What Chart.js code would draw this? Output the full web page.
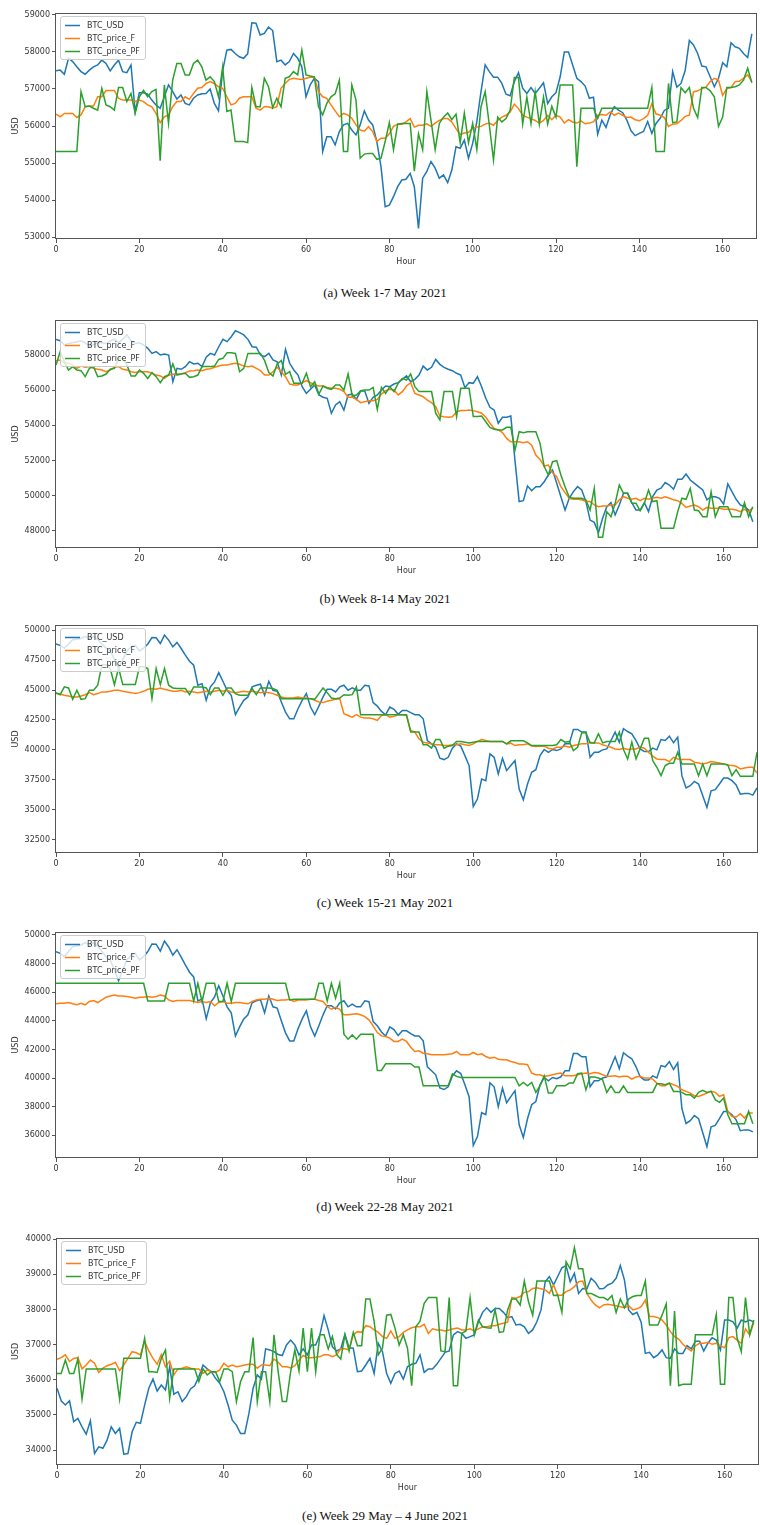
<!DOCTYPE html>
<html>
<head>
<meta charset="utf-8">
<script src="https://cdn.jsdelivr.net/npm/chart.js@4.4.1/dist/chart.umd.min.js"></script>
<style>
  html, body { margin: 0; padding: 0; background: #fff; }
  body { position: relative; width: 760px; height: 1525px; overflow: hidden; }
  .cap { position: absolute; left: 0; width: 770px; text-align: center;
         font-family: "Liberation Serif", "Times New Roman", serif; font-size: 13px;
         line-height: 16px; color: #111; }
</style>
</head>
<body>
<script>
// ---- shared axis / legend content ----
const hourTicks = [0, 20, 40, 60, 80, 100, 120, 140, 160];
const seriesNames = ['BTC_USD', 'BTC_price_F', 'BTC_price_PF'];
const usdTicksA = [53000, 54000, 55000, 56000, 57000, 58000, 59000];
const usdTicksB = [48000, 50000, 52000, 54000, 56000, 58000];
const usdTicksC = [32500, 35000, 37500, 40000, 42500, 45000, 47500, 50000];
const usdTicksD = [36000, 38000, 40000, 42000, 44000, 46000, 48000, 50000];
const usdTicksE = [34000, 35000, 36000, 37000, 38000, 39000, 40000];

// ---- (a) Week 1-7 May 2021, hourly ----
const btcUsdA = [
57490,57510,57400,57830,57740,57600,57470,57400,57510,57600,57650,57780,57690,57490,57650,57780,57470,57440,57650,56390,
56900,56900,56860,56700,56570,56480,56790,57110,56930,56730,56840,56610,56570,56750,56840,56870,56880,57000,56610,56410,
57500,58050,58070,57960,57870,57830,57950,58790,58780,58460,58500,58670,58580,57740,57780,57650,57740,57960,57830,57600,
56790,57110,57290,57200,55310,55710,55710,55490,55850,56030,56070,55890,55760,56030,56410,56160,56030,55580,54900,53820,
53860,54090,54360,54540,54560,54720,54360,53230,54590,54770,55040,54860,54590,54680,54470,54810,55440,55400,55620,55130,
55530,56120,56930,57650,57470,57320,57320,57150,56860,56820,57200,57440,57020,56880,57040,56880,57020,57170,56610,56790,
56900,57330,58000,58000,57650,57290,57200,57080,56750,56780,55780,56160,55960,56300,56520,56430,56360,56160,55870,55740,
55800,55850,56120,55800,56070,56210,56420,56480,57470,57050,57150,57500,58310,58190,57960,57620,57600,57330,57060,57290,
57710,57600,58250,58140,58100,57960,57850,58490];
const priceFA = [
56320,56250,56340,56340,56340,56230,56300,56520,56540,56540,56790,56790,56960,56960,56960,56750,56700,56700,56700,56660,
56700,56660,56570,56520,56340,56090,56250,56300,56520,56660,56660,56790,56720,56880,57020,57040,57150,57200,57150,57060,
57020,56790,56570,56610,56750,56790,56790,56790,56480,56430,56520,56520,56480,56520,57020,57150,57260,57290,57270,57260,
57290,57320,57320,56930,56790,56750,56570,56410,56250,56340,56300,56210,56030,55890,55860,55980,55850,55580,55670,55670,
55790,55990,56050,56050,56110,56200,55970,56020,56020,56060,55990,56080,56150,56200,56200,56110,55930,55770,55810,55830,
55930,55970,55990,56050,56080,56020,56150,56240,56290,56380,56590,56470,56290,56240,56200,56150,56080,56150,56290,56170,
56290,56240,56080,56170,56110,56080,56140,56060,56080,56110,56290,56310,56290,56380,56290,56350,56290,56230,56240,56170,
56140,56200,56290,56600,56330,56290,56230,55990,56050,56060,56150,56260,56290,56920,56950,57010,57050,57200,57290,57240,
56830,57010,57040,57200,57210,57290,57380,57200];
const pricePFA = [
55310,55310,55310,55310,55310,55310,56930,56520,56540,56480,56430,57020,56570,56520,56430,57040,57040,56660,56880,56340,
56790,56960,56790,56930,56990,55060,57110,56070,57240,57690,57690,57380,57380,57690,57780,57600,57240,57330,57200,56790,
57600,56390,56430,55580,55580,55580,55550,57040,56520,56520,57290,57060,56500,56750,56520,57290,57330,57470,57380,58050,
57380,57350,57330,56520,56300,56610,56790,56870,57240,55310,55310,57110,56700,55130,55240,55260,55260,55100,55130,55580,
56090,55360,56050,56070,56070,56070,54780,55790,55360,56930,56150,55360,56070,56240,56350,56170,56320,55550,56350,55550,
56070,55360,56520,56930,56020,55080,56240,56110,56200,56430,57310,57310,56050,56780,56070,56930,56050,56780,56050,56530,
56240,57110,57110,57110,57110,54900,56480,56480,56480,56480,56200,56480,56480,56480,56480,56480,56480,56480,56480,56480,
56480,56480,56480,57040,55310,55310,55310,57150,56090,56110,57040,56900,57040,56480,56230,57040,57040,56950,56790,55990,
56240,57040,57040,57060,57110,57240,57560,57170];

// ---- (b) Week 8-14 May 2021, hourly ----
const btcUsdB = [
58890,58810,58570,58660,58700,58750,58800,58700,58500,58600,58700,58700,58650,58800,58900,58700,58900,59150,58800,58650,
58700,58570,58380,58090,58190,58000,58060,58000,56480,57240,57190,57340,57620,57490,57530,57340,57870,58090,58000,58470,
58890,58760,59040,59380,59270,59140,58890,58470,58440,58000,57910,58090,57720,57620,56860,58320,57530,57150,56860,56200,
55820,56050,56300,55730,55600,55540,54690,55160,55350,54870,55730,55780,55480,55950,55950,55250,55600,55730,56010,56240,
56200,56350,56430,56620,56810,56480,56620,56860,57370,57150,57300,57750,57470,57300,57190,57110,56960,56860,56140,56430,
56390,56770,56200,55540,55030,54870,54120,54460,54460,54530,52000,49670,49720,50560,50290,50520,50520,50800,51180,51470,
50710,49950,49190,49860,50240,50520,50330,49670,48620,48490,47900,48720,49380,49610,48910,49480,50140,50140,49610,49190,
49190,49610,49100,49950,50330,50430,50750,50610,50370,50940,50940,51240,50900,50710,50520,50330,49770,49950,49950,49860,
49530,50670,50240,49800,49480,49380,49190,48530];
const priceFB = [
57680,57720,57560,57530,57430,57240,57370,57300,57340,57240,57190,57150,57050,57150,57300,57340,57190,57150,57050,57000,
57050,57050,57050,56960,56860,56810,56670,56860,56900,56920,56920,57000,57090,57110,57150,57110,57190,57220,57300,57370,
57430,57430,57490,57530,57470,57370,57340,57370,57240,57110,56860,56860,57050,57300,57050,56770,56350,56300,56300,56430,
56540,56430,56300,56240,56240,56160,56110,56110,56050,55920,55600,55600,55480,55290,55350,55400,55400,55480,55780,55970,
56050,56010,55730,55920,56240,56430,55820,55730,55630,55440,55290,55060,54530,54490,54460,54490,54780,54840,54840,54870,
54840,54780,54690,54460,54120,53830,53740,53590,53260,53070,53070,53070,53020,53070,52880,52320,52070,51690,51750,51310,
51090,50520,50180,49860,49800,49800,49770,49670,49670,49480,49380,49420,49420,49480,49480,49770,49950,49860,49800,49860,
49720,49860,49800,49860,49910,49860,49950,49860,49770,49720,49570,49340,49420,49480,49380,49190,49340,49290,49290,49290,
49230,49230,49230,49190,49100,49230,49100,49340];
const pricePFB = [
57430,58190,57620,57150,57340,57150,57110,56770,57240,57340,56770,56810,56920,57190,57240,57810,57810,57430,56810,56810,
57150,56960,56670,57000,56770,56430,56770,56860,57490,56860,56920,56960,56730,56770,56860,57340,57340,57340,57370,57750,
57810,58130,58130,58090,57050,57240,58090,58090,58090,58090,57680,57000,56810,57490,57680,56900,57050,56390,56390,56390,
56960,56200,56480,55780,56240,56110,56050,56300,56300,56010,56920,55670,55730,55970,56010,56010,56160,54910,56160,55820,
56200,55920,56390,56670,56580,56920,56200,55920,55920,55920,55920,54690,54310,55920,55920,55920,54500,56110,56110,56110,
54500,54500,54530,54210,53890,53780,53740,53740,53890,53890,52600,53640,53590,53640,53640,53640,52980,51660,51180,51940,
52000,51180,50520,49910,49860,49860,49860,49760,49190,50420,47640,47640,49100,48810,49570,50610,50140,50140,49570,49570,
49150,49570,50330,49670,49720,48150,48150,48150,48150,49100,49860,49800,50420,49190,49150,48810,48810,50230,48810,49380,
49380,49380,48810,48810,48810,49610,48810,49380];

// ---- (c) Week 15-21 May 2021, hourly (hours 0-168) ----
const btcUsdC = [
48840,48720,48490,48840,49190,49230,49300,49470,49300,49470,49230,48840,48490,48260,47560,46810,47560,48260,48600,48720,
48260,48490,48840,49370,49360,48880,49580,49160,48600,48970,48460,47910,47400,47070,45400,45530,44140,45260,45670,46450,
45730,44980,44560,42940,43580,44140,44420,45260,45400,45480,44560,45730,44980,44890,44000,43160,42600,42600,43440,44140,
44700,43580,42940,43660,44420,45060,45060,44840,45260,45400,44980,45170,44980,44980,45400,45340,43950,43660,43220,42940,
43580,43390,42970,43300,43300,43110,42940,42940,42600,40790,40510,40230,39310,39200,39390,40150,40510,40320,39530,38700,
35290,35910,37580,37440,39670,39390,38000,39310,38280,38700,39120,36740,35850,37160,38140,38360,39530,40040,39810,40040,
39950,40090,40510,40510,41710,41710,41490,41490,39390,39810,39810,40010,40090,40790,41490,40650,41770,41540,41350,40790,
40090,39870,39870,40150,40010,40870,40790,41150,40600,41070,37860,36830,37020,37380,37160,36180,35210,36600,36690,37160,
37660,37660,37440,37080,36320,36380,36380,36240,36830];
const priceFC = [
44700,44640,44560,44500,44420,44420,44500,44610,44780,44610,44700,44840,44840,44890,44980,44980,44890,44840,44780,44700,
44780,44890,45060,45120,45060,45170,45060,44980,44890,44890,44980,44840,44890,44840,44780,44840,44890,44840,44890,44980,
44890,44980,44840,44780,44840,44890,44840,44890,44840,44780,44840,44780,44700,44560,44420,44330,44330,44360,44420,44330,
44330,44280,44140,44000,43950,44060,44140,44220,44280,43020,42880,42740,42940,42740,42660,42660,42600,42460,42880,42940,
42740,42800,42940,42940,42880,41630,41490,40930,40650,40590,40510,40430,40430,40370,40370,40430,40430,40510,40430,40370,
40510,40710,40870,40790,40710,40710,40710,40710,40510,40570,40370,40430,40430,40510,40320,40290,40320,40320,40150,40090,
40230,40230,40320,40230,40370,40430,40510,40510,40650,40590,40590,40430,40320,40230,40090,40040,40150,40040,40090,40090,
40230,40150,39810,39480,39250,39200,39200,39030,39390,39250,39200,39200,39200,38980,38920,38840,38920,39030,38980,38920,
38840,38750,38700,38640,38420,38500,38560,38560,38080];
const pricePFC = [
44780,44610,45260,45170,44220,44980,44220,44280,44980,44980,45400,47100,47100,46790,45450,46850,45450,45450,45450,45450,
46930,46930,46790,44280,46790,45450,46790,45400,45170,45120,45120,45120,44610,45260,45260,45260,45170,44610,45170,45170,
44560,45170,45170,44700,44560,44560,44560,45120,44610,45170,45170,45170,45120,44980,44280,44280,44280,44280,44280,44280,
44280,44280,44220,44700,45170,44780,44330,44280,44330,44610,44560,44610,45260,42940,42940,42940,42940,42940,42940,42940,
42940,42940,42940,42940,42940,41490,41490,41490,40430,40430,40150,40870,40870,40150,40320,40370,40710,40710,40650,40590,
40650,40710,40710,40710,40710,40710,40710,40710,40510,40760,40760,40760,40760,40590,40370,40370,40370,40370,40370,40370,
40430,40870,40650,40710,39950,40230,41430,41430,40590,40590,41350,40590,40710,40710,40710,41490,40040,39250,40650,39250,
40090,40980,40980,39120,38560,37860,38700,38890,38890,39810,38840,38840,38840,38840,37860,38840,37860,38840,38840,38840,
38840,38750,37860,38360,37800,37800,37800,37800,39810];

// ---- (d) Week 22-28 May 2021, hourly ----
const btcUsdD = btcUsdC.slice(0, 168);
const priceFD = [
45190,45230,45230,45280,45190,45120,45230,45120,45350,45420,45280,45460,45650,45740,45810,45740,45740,45700,45650,45580,
45650,45650,45700,45650,45700,45810,45740,45460,45350,45420,45420,45420,45420,45350,45280,45350,45280,45350,45050,45280,
45350,45230,45230,45280,45280,45230,45190,45350,45460,45510,45510,45580,45510,45420,45460,45460,45510,45350,45460,45460,
45460,45510,45510,45420,45350,45000,44810,44950,44810,44420,44420,44460,44490,44420,44300,44070,43650,43180,42950,42910,
42790,42560,42560,42720,42560,42160,41860,41910,41740,41700,41630,41630,41630,41630,41670,41700,41860,41630,41630,41630,
41790,41630,41700,41510,41390,41460,41320,41280,41280,41160,41090,40980,40980,40930,40350,40230,40230,40120,40160,40230,
40300,40350,40160,40160,40160,40230,40300,40350,40300,40390,40350,40230,40120,40120,40160,40070,40120,40120,39930,40070,
40120,40000,40000,39930,39650,39460,39460,39650,39530,39420,39180,39070,38950,38770,38720,38840,38950,39070,39000,38720,
38840,37670,37320,37280,37510,37210,37560,37560];
const pricePFD = [
46630,46630,46630,46630,46630,46630,46630,46630,46630,46630,46630,46630,46630,46630,46630,46630,46630,46630,46630,46630,
46630,46630,45390,45390,45390,45390,45390,46630,46630,46630,46630,46630,46630,45390,46630,45350,46630,46630,46630,45350,
45350,46630,45350,46630,46630,46630,46630,46630,46630,46630,46630,46630,46630,46630,46630,46630,45460,45510,45510,45510,
45510,45510,45510,46630,46630,45390,46630,45580,46630,43070,42720,43020,42720,43070,43070,43070,43070,40530,40530,41000,
41000,41000,41000,41000,41000,41000,40770,40770,39460,39460,39460,39460,39460,39460,39460,40300,40120,40040,40040,40040,
40040,40040,40040,40040,40040,40040,40040,40040,40040,40040,40040,39460,39700,39460,39700,39000,39460,40160,38950,38950,
39460,39460,39460,39650,39650,40300,40350,39180,40070,40070,40000,39880,39000,39460,39000,39000,39460,39000,39000,39000,
39000,39000,39000,39000,39600,39600,39530,39650,39070,39070,39000,38840,38840,38600,39000,39140,39000,39070,38490,38300,
38600,37440,36810,36810,36810,36810,37670,36810];

// ---- (e) Week 29 May - 4 June 2021, hourly ----
const btcUsdE = [
35760,35400,35280,35400,34810,34900,34660,34450,34830,33900,34090,34050,34280,34660,34470,34620,33880,33900,34520,34790,
34760,35280,35760,36020,35680,35850,35710,36370,35590,35660,35380,35520,35740,35830,36090,36420,36310,36230,36040,35900,
35660,35280,34850,34710,34470,34470,35040,35760,36140,36020,36880,36850,36800,36720,36690,36990,37130,36990,36710,36880,
36710,36990,36990,37280,37830,37420,36940,36820,36880,37290,36910,36900,36230,36250,36420,36610,36180,37040,36800,36180,
35900,36180,36250,36020,36370,36440,36470,36710,36210,36310,36310,36440,36610,36780,36820,37280,37370,37320,37180,37230,
37280,37650,37920,38050,37920,38030,38030,37920,37770,37800,37560,37580,37510,37320,37420,37650,37990,38790,38940,38700,
38940,39190,39250,38790,39030,38460,38600,38590,38890,38780,38590,38600,38700,38750,38890,39250,38840,37990,37860,37920,
37640,36750,36780,36630,36710,36850,36630,36610,36880,36750,36750,36970,36880,37100,37100,36820,37040,37200,37130,36850,
37700,37700,37650,37470,37700,37650,37700,37650];
const priceFE = [
36580,36630,36710,36520,36610,36630,36310,36420,36560,36470,36210,36330,36400,36440,36500,36260,36420,36610,36800,36770,
36710,37100,36820,36610,36440,36720,36370,36530,36140,36310,36330,36370,36330,36310,36310,36180,36280,36230,36210,36280,
36470,36370,36420,36370,36390,36420,36440,36440,36330,36420,36420,36400,36590,36500,36370,36370,36340,36400,36560,36690,
36630,36630,36640,36660,36710,36710,36660,36710,36880,36880,36850,37280,37370,37350,37540,37510,37420,37350,37230,37180,
37390,37180,37230,37350,37420,37480,37510,37510,37580,37320,37450,37420,37420,37390,37420,37450,37470,37420,37420,37450,
37390,37450,37510,37510,37540,37540,37580,37610,37640,38340,38320,38370,38490,38510,38600,38620,38590,38560,38460,38700,
38410,38410,38510,38560,38650,38790,38810,38460,38270,38130,38050,38130,38150,38130,38110,38080,38050,38110,37990,38020,
38080,38270,37800,37800,37770,37700,37560,37370,37230,37160,37010,36910,36820,36970,37040,37040,37070,37010,37040,36970,
36910,37200,37230,37130,37040,37450,37280,37640];
const pricePFE = [
36180,36180,36560,36180,36180,36590,35450,36310,36310,36310,36310,36310,36310,36310,36310,35450,36610,36610,36610,36610,
36610,37180,36230,36230,36210,36610,36850,35470,36310,36310,36310,36310,36310,36310,35950,36310,36140,36230,36230,35950,
36310,36310,36230,35380,35950,36230,36230,37200,35380,36230,36230,35380,37280,36230,35380,35380,36230,36850,36250,37470,
36230,37470,36230,37280,37280,36880,37230,36720,36590,37280,36820,37350,36970,36970,38300,38300,37660,36710,36900,37840,
37860,37470,36990,37280,36900,35830,37510,37670,38180,38340,38340,38340,36820,36800,38340,35830,35830,37320,37390,38340,
37280,37700,37510,37480,37470,37990,37350,37370,37990,38300,38300,38130,38810,38220,37840,38810,38810,38810,38810,38400,
38410,37920,39360,39160,39760,39160,39160,38460,38460,38400,38340,38340,38270,38400,37920,38300,38050,38300,38370,38400,
38400,38810,37560,37560,37560,37840,38160,35830,37960,35830,35870,35870,35870,37280,37280,37280,37280,37280,37860,35870,
35870,38340,38340,37180,36800,38340,37280,37700];

// ---- page layout ----
const lineColors = ['#1f77b4', '#ff7f0e', '#2ca02c'];
const panels = [
  { series: [btcUsdA, priceFA, pricePFA], yTicks: usdTicksA, yMin: 52946, yMax: 59054,
    caption: '(a) Week 1-7 May 2021', top: 13, bottom: 239, left: 56, right: 756, capY: 293 },
  { series: [btcUsdB, priceFB, pricePFB], yTicks: usdTicksB, yMin: 47034, yMax: 59989,
    caption: '(b) Week 8-14 May 2021', top: 320, bottom: 548, left: 56, right: 757, capY: 599 },
  { series: [btcUsdC, priceFC, pricePFC], yTicks: usdTicksC, yMin: 31411, yMax: 50419,
    caption: '(c) Week 15-21 May 2021', top: 625, bottom: 853, left: 56, right: 757, capY: 903 },
  { series: [btcUsdD, priceFD, pricePFD], yTicks: usdTicksD, yMin: 34415, yMax: 50209,
    caption: '(d) Week 22-28 May 2021', top: 932, bottom: 1158, left: 56, right: 757, capY: 1207 },
  { series: [btcUsdE, priceFE, pricePFE], yTicks: usdTicksE, yMin: 33573, yMax: 40037,
    caption: '(e) Week 29 May \u2013 4 June 2021', top: 1238, bottom: 1465, left: 57, right: 758, capY: 1516 }
];

Chart.defaults.font.family = '"DejaVu Sans", sans-serif';
Chart.defaults.font.size = 8;
Chart.defaults.color = '#333';

const TEXT = '#333';
const FRAME = '#555';

// frame, in-axes legend and axis titles
const decor = {
  id: 'decor',
  afterDatasetsDraw(chart) {
    const { ctx, chartArea: a } = chart;
    ctx.save();
    ctx.strokeStyle = FRAME;
    ctx.lineWidth = 1;
    ctx.strokeRect(Math.round(a.left) - 0.5, Math.round(a.top) + 0.5,
                   Math.round(a.right - a.left) + 1, Math.round(a.bottom - a.top) - 1);

    const bx = a.left + 4, by = a.top + 3, bw = 85, bh = 43;
    ctx.beginPath();
    ctx.roundRect(bx + 0.5, by + 0.5, bw, bh, 2.5);
    ctx.fillStyle = 'rgba(255,255,255,0.8)';
    ctx.fill();
    ctx.strokeStyle = '#cccccc';
    ctx.stroke();
    ctx.font = '8px "DejaVu Sans", sans-serif';
    ctx.textBaseline = 'middle';
    ctx.textAlign = 'left';
    chart.data.datasets.forEach((ds, i) => {
      const y = by + 9.5 + i * 13;
      ctx.strokeStyle = ds.borderColor;
      ctx.lineWidth = 1.5;
      ctx.beginPath();
      ctx.moveTo(bx + 5, y);
      ctx.lineTo(bx + 20, y);
      ctx.stroke();
      ctx.fillStyle = TEXT;
      ctx.fillText(ds.label, bx + 27, y);
    });

    ctx.fillStyle = TEXT;
    ctx.textAlign = 'center';
    ctx.fillText('Hour', (a.left + a.right) / 2, a.bottom + 22.5);
    ctx.translate(15.5, (a.top + a.bottom) / 2);
    ctx.rotate(-Math.PI / 2);
    ctx.fillText('USD', 0, 0);
    ctx.restore();
  }
};

const PAD_TOP = 10, AXIS_H = 35;

panels.forEach(p => {
  const h = (p.bottom - p.top) + PAD_TOP + AXIS_H;
  const canvas = document.createElement('canvas');
  canvas.width = 760;
  canvas.height = h;
  canvas.style.cssText = `position:absolute;left:0;top:${p.top - PAD_TOP}px;width:760px;height:${h}px`;
  document.body.appendChild(canvas);

  const cap = document.createElement('div');
  cap.className = 'cap';
  cap.style.top = (p.capY - 8) + 'px';
  cap.textContent = p.caption;
  document.body.appendChild(cap);

  const datasets = p.series.map((values, i) => ({
    label: seriesNames[i],
    data: values.map((v, hour) => ({ x: hour, y: v })),
    borderColor: lineColors[i],
    backgroundColor: lineColors[i],
    borderWidth: 1.5,
    pointRadius: 0,
    tension: 0,
    fill: false,
    order: 3 - i
  }));

  const tickGrid = { display: true, drawOnChartArea: false, drawTicks: true, tickLength: 4, color: FRAME, lineWidth: 1 };

  new Chart(canvas, {
    type: 'line',
    data: { datasets },
    options: {
      responsive: false,
      animation: false,
      devicePixelRatio: 1,
      events: [],
      layout: { padding: { top: PAD_TOP, left: 0, right: 760 - p.right, bottom: 0 } },
      plugins: { legend: { display: false }, tooltip: { enabled: false }, title: { display: false } },
      scales: {
        x: {
          type: 'linear', min: 0, max: 168,
          afterBuildTicks: s => { s.ticks = hourTicks.map(v => ({ value: v })); },
          afterFit: s => { s.height = AXIS_H; },
          grid: tickGrid,
          border: { display: false },
          ticks: { padding: 2, color: TEXT, maxRotation: 0, autoSkip: false, callback: v => String(v) }
        },
        y: {
          type: 'linear', min: p.yMin, max: p.yMax,
          afterBuildTicks: s => { s.ticks = p.yTicks.map(v => ({ value: v })); },
          afterFit: s => { s.width = p.left; },
          grid: tickGrid,
          border: { display: false },
          ticks: { padding: 2, color: TEXT, autoSkip: false, callback: v => String(v) }
        }
      }
    },
    plugins: [decor]
  });
});
</script>
</body>
</html>
